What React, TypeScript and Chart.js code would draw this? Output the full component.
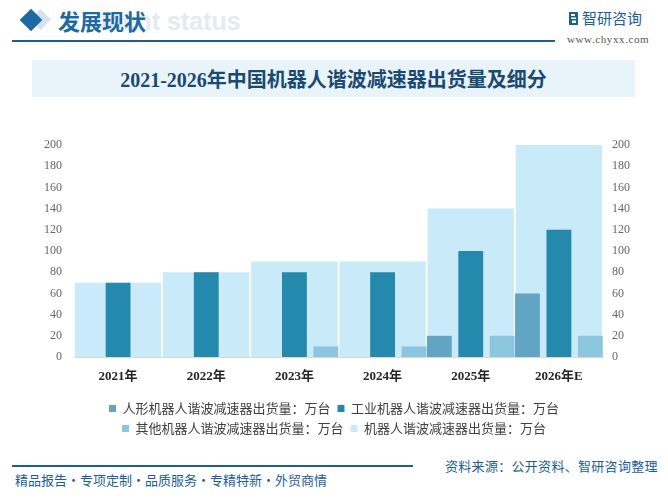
import { useEffect, useRef } from "react"
import { Chart, registerables } from "chart.js"

Chart.register(...registerables)

const years = ["2021年", "2022年", "2023年", "2024年", "2025年", "2026年E"]
const humanoid = [0, 0, 0, 0, 20, 60]
const industrial = [70, 80, 80, 80, 100, 120]
const other = [0, 0, 10, 10, 20, 20]
const total = [70, 80, 90, 90, 140, 200]

const seriesNames = [
  "人形机器人谐波减速器出货量：万台",
  "工业机器人谐波减速器出货量：万台",
  "其他机器人谐波减速器出货量：万台",
  "机器人谐波减速器出货量：万台",
]

const CJK = "'Noto Sans CJK SC', 'Noto Sans', sans-serif"
const SERIF = "'Liberation Serif', 'Noto Sans CJK SC', serif"

function BarChart() {
  const canvasRef = useRef<HTMLCanvasElement>(null)
  const chartRef = useRef<Chart | null>(null)

  useEffect(() => {
    if (!canvasRef.current) return
    if (chartRef.current) chartRef.current.destroy()

    const narrow = { categoryPercentage: 1.07, barPercentage: 0.79, order: 0, yAxisID: "y" }

    chartRef.current = new Chart(canvasRef.current, {
      type: "bar",
      data: {
        labels: years,
        datasets: [
          { ...narrow, label: seriesNames[0], data: humanoid, backgroundColor: "#62a4c4" },
          { ...narrow, label: seriesNames[1], data: industrial, backgroundColor: "#2589ad" },
          { ...narrow, label: seriesNames[2], data: other, backgroundColor: "#8cc6de" },
          {
            label: seriesNames[3],
            data: total,
            backgroundColor: "#c9eaf8",
            grouped: false,
            categoryPercentage: 1,
            barPercentage: 0.98,
            order: 1,
            yAxisID: "y1",
          },
        ],
      },
      options: {
        animation: false,
        responsive: true,
        maintainAspectRatio: false,
        layout: { padding: { top: 25, bottom: 5, left: 0, right: 0 } },
        plugins: {
          legend: {
            position: "bottom",
            labels: {
              boxWidth: 7,
              boxHeight: 7,
              padding: 7,
              color: "#404040",
              font: { size: 13, family: CJK },
            },
          },
          tooltip: { enabled: false },
        },
        scales: {
          x: {
            grid: { display: false },
            border: { display: true, color: "#d9d9d9" },
            ticks: { padding: 4, color: "#262626", font: { size: 13, weight: "bold", family: SERIF } },
            afterFit: (s: any) => {
              s.height = 38
            },
          },
          y: {
            position: "left",
            min: 0,
            max: 200,
            grid: { display: false },
            border: { display: false },
            ticks: { stepSize: 20, padding: 4, color: "#666666", font: { size: 12, family: SERIF } },
            afterFit: (s: any) => {
              s.width = 74
            },
          },
          y1: {
            position: "right",
            min: 0,
            max: 200,
            grid: { display: false },
            border: { display: false },
            ticks: { stepSize: 20, padding: 1, color: "#666666", font: { size: 12, family: SERIF } },
            afterFit: (s: any) => {
              s.width = 65
            },
          },
        },
      },
    })

    return () => {
      if (chartRef.current) {
        chartRef.current.destroy()
        chartRef.current = null
      }
    }
  }, [])

  return <canvas ref={canvasRef}></canvas>
}

export default function App() {
  return (
    <div
      style={{
        position: "absolute",
        left: 0,
        top: 0,
        width: 668,
        height: 498,
        background: "#ffffff",
        overflow: "hidden",
        fontFamily: CJK,
      }}
    >
      {/* header */}
      <div
        style={{
          position: "absolute",
          left: 3,
          top: 6,
          fontFamily: "'Liberation Sans', sans-serif",
          fontWeight: "bold",
          fontSize: 25,
          lineHeight: "30px",
          color: "#e4eaef",
          whiteSpace: "nowrap",
        }}
      >
        Development status
      </div>
      <div style={{ position: "absolute", left: 0, top: 2, width: 98, height: 36, background: "#ffffff" }} />
      <div
        style={{
          position: "absolute",
          left: 33,
          top: 12,
          width: 15,
          height: 15,
          background: "#d5e3ee",
          transform: "rotate(45deg)",
        }}
      />
      <div
        style={{
          position: "absolute",
          left: 23,
          top: 12,
          width: 16,
          height: 16,
          background: "#1d6aa3",
          transform: "rotate(45deg)",
        }}
      />
      <div
        style={{
          position: "absolute",
          left: 58,
          top: 5,
          fontSize: 22,
          fontWeight: "bold",
          color: "#1d6a9c",
          lineHeight: "30px",
          whiteSpace: "nowrap",
        }}
      >
        发展现状
      </div>
      <div style={{ position: "absolute", left: 12, top: 40, width: 543, height: 1.5, background: "#1f5f88" }} />

      {/* logo */}
      <svg style={{ position: "absolute", left: 569, top: 12 }} width="9" height="13" viewBox="0 0 9 13">
        <rect x="0" y="0" width="9" height="13" fill="#1d5e96" />
        <rect x="2" y="2" width="4" height="2" fill="#ffffff" />
        <rect x="2" y="5.5" width="5" height="1.5" fill="#ffffff" />
        <rect x="3" y="8.5" width="4" height="2.5" fill="#ffffff" />
      </svg>
      <div
        style={{
          position: "absolute",
          left: 582,
          top: 8,
          fontSize: 15,
          color: "#1d5e96",
          lineHeight: "20px",
          whiteSpace: "nowrap",
        }}
      >
        智研咨询
      </div>
      <div
        style={{
          position: "absolute",
          left: 567,
          top: 32,
          fontSize: 11,
          fontFamily: SERIF,
          color: "#555555",
          letterSpacing: 0.6,
          lineHeight: "14px",
          whiteSpace: "nowrap",
        }}
      >
        www.chyxx.com
      </div>

      {/* title box */}
      <div
        style={{
          position: "absolute",
          left: 32,
          top: 60,
          width: 603,
          height: 37,
          background: "#e8f3fa",
          display: "flex",
          alignItems: "center",
          justifyContent: "center",
          fontFamily: SERIF,
          fontWeight: "bold",
          fontSize: 20,
          color: "#1b4a70",
          whiteSpace: "nowrap",
        }}
      >
        2021-2026年中国机器人谐波减速器出货量及细分
      </div>

      {/* chart */}
      <div style={{ position: "absolute", left: 0, top: 120, width: 668, height: 330 }}>
        <BarChart />
      </div>

      {/* footer */}
      <div style={{ position: "absolute", left: 12, top: 465, width: 401, height: 1.5, background: "#1f5f88" }} />
      <div
        style={{
          position: "absolute",
          left: 15,
          top: 471,
          fontSize: 13,
          color: "#1d5e92",
          lineHeight: "18px",
          whiteSpace: "nowrap",
        }}
      >
        精品报告・专项定制・品质服务・专精特新・外贸商情
      </div>
      <div
        style={{
          position: "absolute",
          left: 445,
          top: 457,
          fontSize: 13,
          color: "#1d5e92",
          lineHeight: "18px",
          letterSpacing: 0.3,
          whiteSpace: "nowrap",
        }}
      >
        资料来源：公开资料、智研咨询整理
      </div>
    </div>
  )
}
